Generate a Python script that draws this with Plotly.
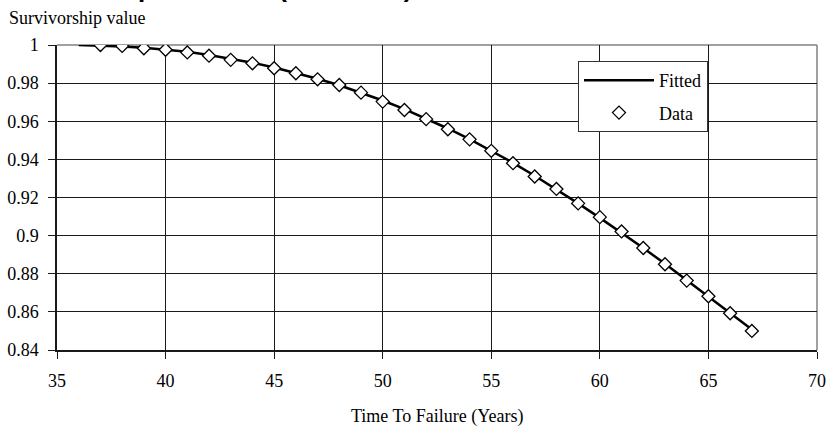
import plotly.graph_objects as go

# ---- data ----
data_years = [37, 38, 39, 40, 41, 42, 43, 44, 45, 46, 47, 48, 49, 50, 51, 52,
              53, 54, 55, 56, 57, 58, 59, 60, 61, 62, 63, 64, 65, 66, 67]
data_surv = [1.0, 0.9995, 0.9983, 0.9975, 0.9961, 0.9944, 0.9922, 0.9904, 0.9878,
             0.9852, 0.9820, 0.9790, 0.9750, 0.9703, 0.9659, 0.9611, 0.9558,
             0.9505, 0.9445, 0.9380, 0.9310, 0.9245, 0.9169, 0.9097, 0.9022,
             0.8935, 0.8850, 0.8764, 0.8682, 0.8593, 0.8500]

fit_years = [36, 37, 38, 39, 40, 41, 42, 43, 44, 45, 46, 47, 48, 49, 50, 51, 52,
             53, 54, 55, 56, 57, 58, 59, 60, 61, 62, 63, 64, 65, 66, 67]
fit_surv = [1.0, 0.9997, 0.9992, 0.9985, 0.9976, 0.9964, 0.9948, 0.9929, 0.9907,
            0.9882, 0.9854, 0.9823, 0.9789, 0.9751, 0.9709, 0.9664, 0.9615,
            0.9562, 0.9506, 0.9446, 0.9382, 0.9314, 0.9243, 0.9169, 0.9093,
            0.9015, 0.8935, 0.8852, 0.8767, 0.8680, 0.8593, 0.8508]

x_ticks = [35, 40, 45, 50, 55, 60, 65, 70]
x_tick_labels = ["35", "40", "45", "50", "55", "60", "65", "70"]
y_ticks = [0.84, 0.86, 0.88, 0.90, 0.92, 0.94, 0.96, 0.98, 1.0]
y_tick_labels = ["0.84", "0.86", "0.88", "0.9", "0.92", "0.94", "0.96", "0.98", "1"]

title_text = "Survivorship Function (Iowa L1.5)"
y_title = "Survivorship value"
x_title = "Time To Failure (Years)"

SERIF = "Liberation Serif"
SANS = "Liberation Sans"

fig = go.Figure()
fig.add_trace(go.Scatter(
    x=fit_years, y=fit_surv, mode="lines", name="Fitted", legendgroup="fit",
    line=dict(color="black", width=2.5),
))
fig.add_trace(go.Scatter(
    x=data_years, y=data_surv, mode="markers", name="Data", legendgroup="data",
    marker=dict(symbol="diamond", size=10, color="white",
                line=dict(color="black", width=1.3)),
))

W, H = 829, 427
ml, mr, mt, mb = 57, 12, 45, 77
pw = W - ml - mr
ph = H - mt - mb


def px_x(p):
    return (p - ml) / pw


def px_y(p):
    return (H - mb - p) / ph


fig.update_layout(
    width=W, height=H,
    margin=dict(l=ml, r=mr, t=mt, b=mb, pad=0, autoexpand=False),
    paper_bgcolor="white", plot_bgcolor="white",
    font=dict(family=SERIF, size=18, color="black"),
    showlegend=True,
    legend=dict(
        x=px_x(578), y=px_y(61), xanchor="left", yanchor="top",
        bgcolor="white", bordercolor="#333333", borderwidth=1,
        font=dict(family=SERIF, size=18, color="black"),
        tracegroupgap=6, itemwidth=70, entrywidth=142, entrywidthmode="pixels",
    ),
    xaxis=dict(
        range=[35, 70], tickmode="array", tickvals=x_ticks, ticktext=x_tick_labels,
        showgrid=True, gridcolor="#1a1a1a", gridwidth=1,
        showline=True, linecolor="#1a1a1a", linewidth=1.5, mirror=False,
        ticks="outside", ticklen=7, tickcolor="#1a1a1a", tickwidth=1,
        ticklabelstandoff=7, zeroline=False, automargin=False,
        tickfont=dict(family=SERIF, size=18, color="black"),
    ),
    yaxis=dict(
        range=[0.84, 1.0], tickmode="array", tickvals=y_ticks, ticktext=y_tick_labels,
        showgrid=True, gridcolor="#1a1a1a", gridwidth=1,
        showline=True, linecolor="#1a1a1a", linewidth=1.5, mirror=False,
        ticks="outside", ticklen=7, tickcolor="#1a1a1a", tickwidth=1,
        ticklabelstandoff=6, zeroline=False, automargin=False,
        tickfont=dict(family=SERIF, size=18, color="black"),
    ),
    shapes=[
        dict(type="line", xref="paper", yref="paper", x0=0, x1=1, y0=1, y1=1,
             line=dict(color="#808080", width=1.5), layer="between"),
        dict(type="line", xref="paper", yref="paper", x0=1, x1=1, y0=0, y1=1,
             line=dict(color="#808080", width=1.5), layer="between"),
    ],
    annotations=[
        dict(text=y_title, xref="paper", yref="paper", x=px_x(7), y=px_y(18),
             xanchor="left", yanchor="middle", showarrow=False,
             font=dict(family=SERIF, size=18, color="black")),
        dict(text=x_title, xref="paper", yref="paper", x=0.5, y=px_y(416),
             xanchor="center", yanchor="middle", showarrow=False,
             font=dict(family=SERIF, size=18, color="black")),
        dict(text="<b>" + title_text + "</b>", xref="paper", yref="paper",
             x=px_x(-7), y=px_y(-12), xanchor="left", yanchor="middle",
             showarrow=False,
             font=dict(family=SANS, size=26, color="black")),
    ],
)

fig.write_html("out.html")
